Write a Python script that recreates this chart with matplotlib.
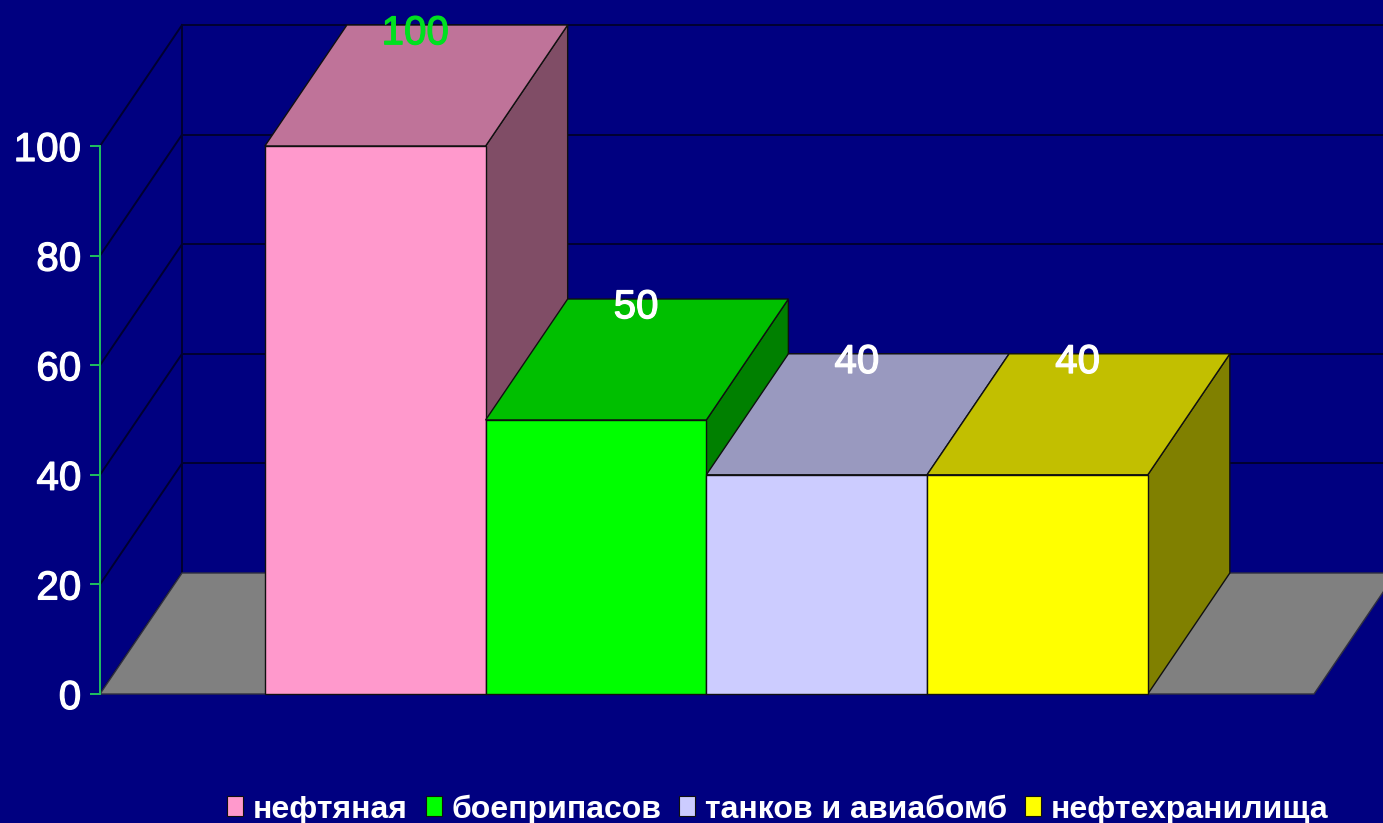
" 3d style column chart drawn with plain 2d polygons "
import matplotlib
matplotlib.use("Agg")
import matplotlib.pyplot as plt
from matplotlib.patches import Patch, Polygon
from matplotlib import patheffects

plt.rcParams['font.family'] = ['Liberation Sans', 'DejaVu Sans']

categories = ["нефтяная", "боеприпасов", "танков и авиабомб", "нефтехранилища"]
values = [100, 50, 40, 40]
yticks = [0, 20, 40, 60, 80, 100]

front = ["#FF99CC", "#00FF00", "#CCCCFF", "#FFFF00"]
top = ["#BF7399", "#00BF00", "#9999BF", "#C2BF00"]
side = ["#804D66", "#008000", "#666680", "#808000"]
label_clrs = ["#00E020", "white", "white", "white"]

BG = "#000080"
W, H = 1383, 823
# depth of the fake 3d box, in data units
DX = 82/220.6
DY = 121/5.48
XMIN, XMAX = -1.247, 4.253


def face(ax, pts, color, zorder):
    ax.add_patch(Polygon(pts, closed=True, facecolor=color, edgecolor="#101010",
                         linewidth=1, zorder=zorder, clip_on=False))


def thicken(clr):
    return [patheffects.withStroke(linewidth=0.9, foreground=clr)]


fig = plt.figure(figsize=(W/100, H/100), dpi=100, facecolor=BG)
ax = fig.add_axes([100/W, (H-694)/H, 1214/W, 548/H], facecolor="none")
ax.set_xlim(XMIN, XMAX)
ax.set_ylim(0, 100)

# walls
for y in yticks:
    ax.plot([XMIN, XMIN+DX], [y, y+DY], color="#000030", lw=1.4, zorder=1,
            clip_on=False)
    if y > 0:
        ax.plot([XMIN+DX, XMAX+DX], [y+DY, y+DY], color="#000030", lw=1.4,
                zorder=1, clip_on=False)
ax.plot([XMIN+DX, XMIN+DX], [DY, 100+DY], color="#000030", lw=1.4, zorder=1,
        clip_on=False)

# floor
ax.add_patch(Polygon([(XMIN, 0), (XMAX, 0), (XMAX+DX, DY), (XMIN+DX, DY)],
                     closed=True, facecolor="#808080", edgecolor="#303040",
                     linewidth=1, zorder=2, clip_on=False))

for i, v in enumerate(values):
    l, r = i-0.5, i+0.5
    face(ax, [(r, 0), (r+DX, DY), (r+DX, v+DY), (r, v)], side[i], 3+i)
    face(ax, [(l, v), (r, v), (r+DX, v+DY), (l+DX, v+DY)], top[i], 3+i)
    face(ax, [(l, 0), (r, 0), (r, v), (l, v)], front[i], 3+i)
    t = ax.text(i+DX/2-0.004, v+DY-1.5, str(v), color=label_clrs[i], fontsize=29,
                ha="center", va="center", zorder=10, clip_on=False)
    t.set_path_effects(thicken(label_clrs[i]))

ax.set_xticks([])
ax.set_yticks(yticks)
ax.tick_params(axis="y", colors="white", labelsize=29, length=7.5, width=1.4,
               color="#20C060", pad=6)
for lab in ax.get_yticklabels():
    lab.set_path_effects(thicken("white"))
for s in ["top", "right", "bottom"]:
    ax.spines[s].set_visible(False)
ax.spines["left"].set_color("#20C060")
ax.spines["left"].set_linewidth(1.4)

handles = [Patch(facecolor=c, edgecolor="#101010", linewidth=0.8) for c in front]
fig.legend(handles, categories, loc="lower left", bbox_to_anchor=(227/W, -0.002),
           ncols=4, frameon=False, labelcolor="white", handlelength=0.5,
           handleheight=0.58, handletextpad=0.31, columnspacing=0.56, borderpad=0,
           borderaxespad=0, prop={"weight": "bold", "size": 23})

fig.savefig("out.png", dpi=100, facecolor=BG)
